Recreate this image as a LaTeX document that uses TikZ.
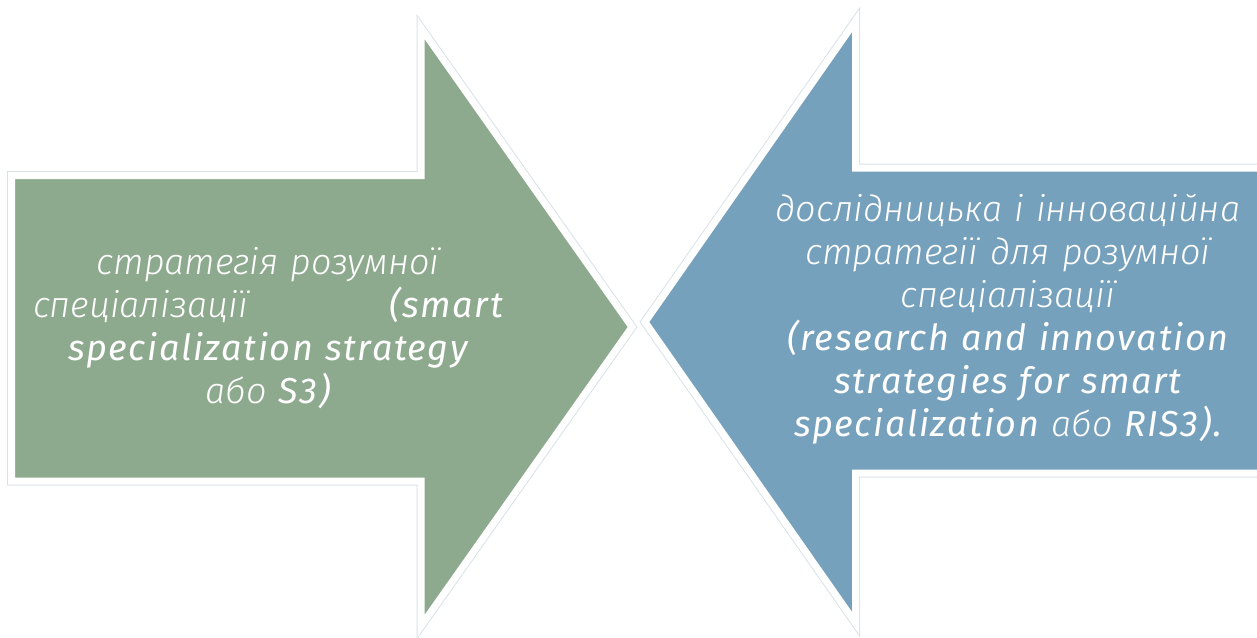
\documentclass[tikz,border=0pt]{standalone}
\usepackage{fontspec}
\setmainfont{Fira Sans}[LetterSpace=4.5]
\newfontfamily\thinf{Fira Sans Light}
\usepackage{tikz}
\usetikzlibrary{positioning}

\definecolor{sage}{RGB}{142,170,142}
\definecolor{steel}{RGB}{118,161,188}
\definecolor{rim}{RGB}{218,226,233}

\begin{document}
\begin{tikzpicture}[x=1pt,y=-1pt,
            rimline/.style={draw=rim,line width=9pt,line join=miter},
            arrowbody/.style={draw=white,line width=7pt,line join=miter,preaction={rimline}},
            lab/.style={text=white,align=center,inner sep=0pt,text width=#1,
              font=\fontsize{36}{43}\selectfont\itshape}
          ]
          \useasboundingbox (0,0) rectangle (1257,637);

          %arrows
          \draw[arrowbody,fill=sage] (11.5,175.5) -- (421,175.5) -- (421,28) -- (632,327)
            -- (421,626) -- (421,481) -- (11.5,481) -- cycle;
          \draw[arrowbody,fill=steel] (1270,168) -- (855.5,168) -- (855.5,21) -- (645,322)
            -- (855.5,623) -- (855.5,473) -- (1270,473) -- cycle;

          %labels
          \node[lab=470pt] (s3) at (268,328) {{\thinf стратегія розумної}\\
            \makebox[\linewidth]{{\thinf спеціалізації}\hfill(smart}\\
            specialization strategy\\
            {\thinf або} S3)};
          \node[lab=490pt] (ris3) at (1008,319) {{\thinf дослідницька і інноваційна}\\
            {\thinf стратегії для розумної}\\
            {\thinf спеціалізації}\\
            (research and innovation\\
            strategies for smart\\
            specialization {\thinf або} RIS3).};
      \end{tikzpicture}
\end{document}
